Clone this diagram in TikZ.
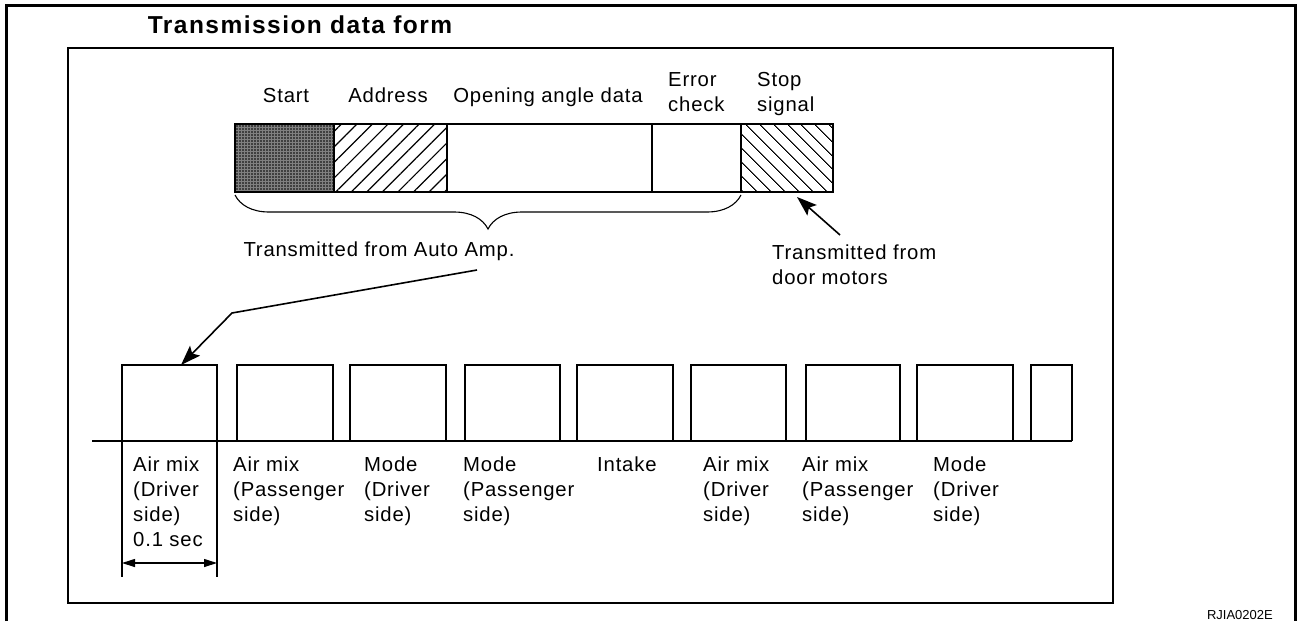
\documentclass[tikz,border=0pt]{standalone}
\usepackage{fontspec}
\setmainfont{Liberation Sans}
\newfontfamily\lblfont{Liberation Sans}[LetterSpace=4]
\newfontfamily\ttlfont{Liberation Sans}[LetterSpace=6]
\usetikzlibrary{arrows.meta,patterns.meta,decorations.pathreplacing}

\begin{document}
\begin{tikzpicture}[x=1pt,y=-1pt,line join=miter,
  lbl/.style={font=\lblfont\fontsize{20.3}{25}\selectfont,inner sep=0pt},
  bar/.style={line width=1.8pt},
  pulse/.style={line width=1.4pt},
  callout/.style={-{Stealth[length=20pt,width=14pt,inset=4pt]},line width=1.6pt},
  dimarrow/.style={{Triangle[length=13pt,width=8pt]}-{Triangle[length=13pt,width=8pt]},line width=1.1pt}]
\useasboundingbox (0,0) rectangle (1297,621);
% frames
\draw[line width=3pt] (6,621) -- (6,5) -- (1295,5) -- (1295,621);
\draw[line width=1.8pt] (68,48) rectangle (1113,603);
\node[font=\ttlfont\bfseries\fontsize{24.5}{28}\selectfont,anchor=base,inner sep=0pt] (title) at (300,33) {Transmission data form};
% data frame
\coordinate (f0) at (235,124);
\coordinate (f1) at (334,192);
\coordinate (f2) at (447,124);
\coordinate (f3) at (741,124);
\coordinate (f4) at (833,192);
\fill[black!50] (f0) rectangle (f1);
\fill[pattern={Dots[distance=3pt,radius=0.9pt]}] (f0) rectangle (f1);
\fill[pattern={Lines[angle=45,distance=11pt,line width=1.2pt]}] (334,124) rectangle (447,192);
\fill[pattern={Lines[angle=-45,distance=10.5pt,line width=1.2pt]}] (f3) rectangle (f4);
\draw[bar] (f0) rectangle (f4);
\foreach \x in {334,447,652,741}
  \draw[bar] (\x,124) -- (\x,192);
\node[lbl,anchor=base] (start) at (286,102) {Start};
\node[lbl,anchor=base] (addr) at (388,102) {Address};
\node[lbl,anchor=base] (angle) at (548,102) {Opening angle data};
\node[lbl,anchor=north west,align=left] (errchk) at (668,72) {Error\\check};
\node[lbl,anchor=north west,align=left] (stop) at (757,72) {Stop\\signal};
\draw[line width=1.1pt,decorate,decoration={brace,mirror,amplitude=34pt}] (235,195) -- (741,195);
\node[lbl,anchor=base] (autoamp) at (379,256) {Transmitted from Auto Amp.};
\node[lbl,anchor=north west,align=left] (doormot) at (772,245) {Transmitted from\\door motors};
\coordinate (aa-tail) at (477,270);
\coordinate (aa-knee) at (232,313);
\coordinate (p1top) at (181,365);
\coordinate (dm-tail) at (840,235);
\coordinate (dm-tip) at (797,197);
\draw[callout] (aa-tail) -- (aa-knee) -- (p1top);
\draw[callout] (dm-tail) -- (dm-tip);
% pulse train
\draw[pulse] (92,441) -- (1072,441);
\foreach \a/\b in {122/217,237/333,350/446,465/560,577/673,691/786,806/900,917/1013,1031/1072}
  \draw[pulse] (\a,441) -- (\a,365) -- (\b,365) -- (\b,441);
\coordinate (d0) at (122,577);
\coordinate (d1) at (217,577);
\draw[line width=1.2pt] (122,441) -- (d0);
\draw[line width=1.2pt] (217,441) -- (d1);
\draw[dimarrow] (122,563) -- (217,563);
\node[lbl,anchor=north west,align=left] (amd1) at (133,457) {Air mix\\(Driver\\side)\\0.1 sec};
\node[lbl,anchor=north west,align=left] (amp1) at (233,457) {Air mix\\(Passenger\\side)};
\node[lbl,anchor=north west,align=left] (mdd1) at (364,457) {Mode\\(Driver\\side)};
\node[lbl,anchor=north west,align=left] (mdp1) at (463,457) {Mode\\(Passenger\\side)};
\node[lbl,anchor=north west,align=left] (intk) at (597,457) {Intake};
\node[lbl,anchor=north west,align=left] (amd2) at (703,457) {Air mix\\(Driver\\side)};
\node[lbl,anchor=north west,align=left] (amp2) at (802,457) {Air mix\\(Passenger\\side)};
\node[lbl,anchor=north west,align=left] (mdd2) at (933,457) {Mode\\(Driver\\side)};
\node[font=\fontsize{13}{15}\selectfont,anchor=base east,inner sep=0pt] (figid) at (1273,619) {RJIA0202E};
\end{tikzpicture}
\end{document}
